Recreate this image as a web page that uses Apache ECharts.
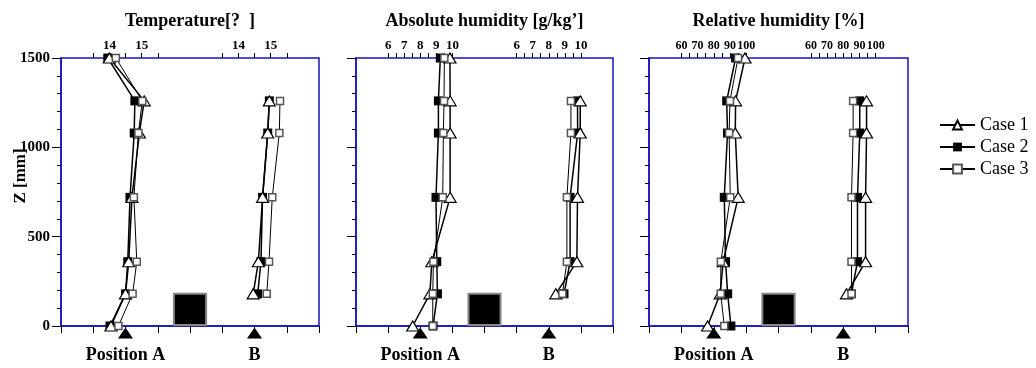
<!DOCTYPE html>
<html>
<head>
<meta charset="utf-8">
<script src="https://cdn.jsdelivr.net/npm/echarts@6/dist/echarts.min.js"></script>
<style>
  html, body { margin: 0; padding: 0; background: #fff; }
  #chart { width: 1036px; height: 368px; }
</style>
</head>
<body>
<div id="chart"></div>
<script>
// heights of the measuring points (mm)
var zA = [0, 180, 360, 720, 1080, 1260, 1500]
var zB = [180, 360, 720, 1080, 1260]

// temperature, position A / B
var tempA1 = [14.05, 14.5, 14.6, 14.7, 14.93, 15.08, 14.0]
var tempA2 = [14.02, 14.5, 14.57, 14.64, 14.77, 14.79, 13.95]
var tempA3 = [14.28, 14.72, 14.85, 14.76, 14.9, 15.02, 14.2]
var tempB1 = [14.46, 14.62, 14.75, 14.91, 14.96]
var tempB2 = [14.6, 14.7, 14.75, 14.91, 14.96]
var tempB3 = [14.88, 14.95, 15.05, 15.27, 15.29]

// absolute humidity, position A / B
var ahA1 = [7.53, 8.6, 8.72, 9.86, 9.86, 9.86, 9.85]
var ahA2 = [8.8, 9.07, 9.03, 8.98, 9.13, 9.13, 9.25]
var ahA3 = [8.78, 8.78, 8.82, 9.4, 9.44, 9.48, 9.5]
var ahB1 = [8.44, 9.75, 9.79, 9.96, 9.96]
var ahB2 = [8.95, 9.33, 9.33, 9.8, 9.79]
var ahB3 = [8.85, 9.13, 9.13, 9.38, 9.38]

// relative humidity, position A / B
var rhA1 = [76.2, 84, 85.8, 95.1, 93.3, 93.5, 99.3]
var rhA2 = [90.6, 88.6, 87.3, 86.5, 88.5, 88, 93.5]
var rhA3 = [86.5, 84.3, 84.4, 90.2, 89.5, 90, 95]
var rhB1 = [82, 93.8, 93.8, 94.4, 94.4]
var rhB2 = [85, 88.8, 88.8, 90.2, 90.2]
var rhB3 = [85.1, 85.1, 85.1, 86.1, 86.1]

// top axis ticks / labels
var tempTicks = [13.5, 14, 14.5, 15, 15.5]
var tempLabels = [14, 15]
var ahTicks = [6, 6.5, 7, 7.5, 8, 8.5, 9, 9.5, 10]
var ahLabels = [6, 7, 8, 9, 10]
var rhTicks = [60, 65, 70, 75, 80, 85, 90, 95, 100]
var rhLabels = [60, 70, 80, 90, 100]

// sensor positions on the floor, obstacle box
var posMarks = [2, 6]
var posNames = ['Position A', 'B']
var boxX = [3.5, 4.5]
var boxZ = [5, 180]

var titles = ['Temperature[?  ]', 'Absolute humidity [g/kg\u2019]', 'Relative humidity [%]']
var caseNames = ['Case 1', 'Case 2', 'Case 3']

var BLUE = '#1414c0'
var FONT = '"Liberation Serif", "Times New Roman", serif'

var panels = [
  { left: 61, width: 258, rangeA: [12.5, 20.5], rangeB: [8.5, 16.5], ticks: tempTicks, labels: tempLabels,
    a: [tempA1, tempA2, tempA3], b: [tempB1, tempB2, tempB3], tickFont: 13 },
  { left: 356, width: 257, rangeA: [4, 20], rangeB: [-4, 12], ticks: ahTicks, labels: ahLabels,
    a: [ahA1, ahA2, ahA3], b: [ahB1, ahB2, ahB3], tickFont: 13 },
  { left: 649, width: 259, rangeA: [40, 200], rangeB: [-40, 120], ticks: rhTicks, labels: rhLabels,
    a: [rhA1, rhA2, rhA3], b: [rhB1, rhB2, rhB3], tickFont: 12 },
]

var caseStyle = [
  { symbol: 'triangle', symbolSize: [12, 10], itemStyle: { color: '#fff', borderColor: '#000', borderWidth: 1.2 }, lineWidth: 1.5, z: 3 },
  { symbol: 'rect', symbolSize: 9, itemStyle: { color: '#000' }, lineWidth: 1.5, z: 2 },
  { symbol: 'rect', symbolSize: 7, itemStyle: { color: '#fff', borderColor: '#555', borderWidth: 1.5 }, lineWidth: 1, z: 4 },
]

function pairs(xs, zs) {
  return zs.map(function (z, k) { return [xs[k], z] })
}

var grid = []
var xAxis = []
var yAxis = []
var series = []
var title = []

panels.forEach(function (p, i) {
  grid.push({ left: p.left, top: 58, width: p.width, height: 268, show: true, borderColor: BLUE, borderWidth: 1.5, outerBoundsMode: 'none' })
  title.push({
    text: titles[i], left: p.left + p.width / 2, top: 12, textAlign: 'center', padding: 0,
    textStyle: { fontFamily: FONT, fontSize: 18, fontWeight: 'bold', color: '#000' },
  })

  // bottom axis: positions along the room
  xAxis.push({
    gridIndex: i, type: 'value', position: 'bottom', min: 0, max: 8, interval: 1,
    axisLine: { show: true, lineStyle: { color: BLUE, width: 1.5 } },
    axisTick: { show: true, length: 7, lineStyle: { color: '#000' } },
    axisLabel: {
      customValues: posMarks, margin: 20,
      formatter: function (v) { return posNames[posMarks.indexOf(v)] },
      fontFamily: FONT, fontSize: 18, fontWeight: 'bold', color: '#000',
    },
    splitLine: { show: false },
  })
  // top axes, one scale for A and one for B
  ;[p.rangeA, p.rangeB].forEach(function (r) {
    xAxis.push({
      gridIndex: i, type: 'value', position: 'top', min: r[0], max: r[1],
      axisLine: { show: false },
      axisTick: { show: true, customValues: p.ticks, length: 5, lineStyle: { color: '#000' } },
      axisLabel: {
        customValues: p.labels, margin: 6, hideOverlap: false, showMinLabel: true, showMaxLabel: true,
        fontFamily: FONT, fontSize: p.tickFont, fontWeight: 'bold', color: '#000',
      },
      splitLine: { show: false },
    })
  })

  yAxis.push({
    gridIndex: i, type: 'value', min: 0, max: 1500, interval: 500,
    axisLine: { show: true, lineStyle: { color: BLUE, width: 1.5 } },
    axisTick: { show: true, length: 9, lineStyle: { color: '#000' } },
    minorTick: { show: true, splitNumber: 5, length: 4, lineStyle: { color: '#000' } },
    axisLabel: {
      show: i === 0, margin: 11, formatter: function (v) { return String(v) },
      fontFamily: FONT, fontSize: 15, fontWeight: 'bold', color: '#000',
    },
    splitLine: { show: false },
  })

  ;[[p.a, zA, 3 * i + 1], [p.b, zB, 3 * i + 2]].forEach(function (set) {
    ;[1, 0, 2].forEach(function (c) {
      var st = caseStyle[c]
      series.push({
        name: caseNames[c], type: 'line', xAxisIndex: set[2], yAxisIndex: i,
        data: pairs(set[0][c], set[1]),
        symbol: st.symbol, symbolSize: st.symbolSize, showAllSymbol: true,
        itemStyle: st.itemStyle, z: st.z,
        lineStyle: { color: '#000', width: st.lineWidth },
      })
    })
  })

  // triangles marking sensor positions + the obstacle
  series.push({
    name: 'pos', type: 'scatter', xAxisIndex: 3 * i, yAxisIndex: i, clip: false,
    data: posMarks.map(function (x) { return [x, 0] }),
    symbol: 'triangle', symbolSize: [15, 11], symbolOffset: [0, 7],
    itemStyle: { color: '#000', opacity: 1 }, z: 5,
    markArea: {
      silent: true,
      itemStyle: { color: '#000', borderColor: '#888', borderWidth: 2, opacity: 1 },
      data: [[{ coord: [boxX[0], boxZ[0]] }, { coord: [boxX[1], boxZ[1]] }]],
    },
  })
})

var myChart = echarts.init(document.getElementById('chart'))
myChart.setOption({
  animation: false,
  title: title,
  grid: grid,
  xAxis: xAxis,
  yAxis: yAxis,
  legend: {
    data: caseNames, orient: 'vertical', left: 934, top: 111,
    itemWidth: 35, itemHeight: 11, itemGap: 4,
    textStyle: { fontFamily: FONT, fontSize: 18, color: '#000' },
  },
  graphic: [{
    type: 'text', x: 21, y: 176, rotation: Math.PI / 2,
    style: { text: 'Z [mm]', font: 'bold 17px ' + FONT, fill: '#000', align: 'center', verticalAlign: 'middle' },
  }],
  series: series,
})
</script>
</body>
</html>
